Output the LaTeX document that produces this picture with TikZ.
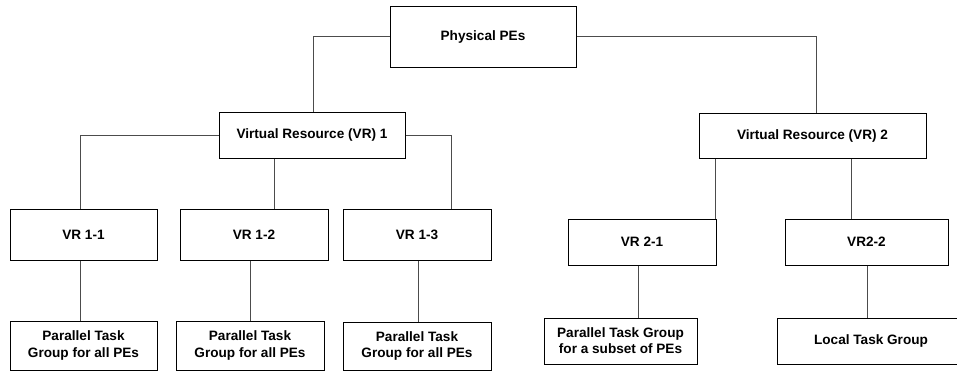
\documentclass[tikz,border=0pt]{standalone}
\usepackage{fontspec}
\setmainfont{Liberation Sans}
\begin{document}
\begin{tikzpicture}[x=1pt,y=-1pt,
  box/.style={draw=black, line width=1pt, inner sep=0pt, align=center,
    font=\fontsize{13.6}{16.2}\selectfont\bfseries},
  conn/.style={draw=black!70, line width=1pt}]
\useasboundingbox (0,0) rectangle (957,372);
% nodes
\node[box, minimum width=186pt, minimum height=61pt] (phys) at (483,36.5) {Physical PEs};
\node[box, minimum width=186pt, minimum height=46pt] (vr1) at (312,135) {Virtual Resource (VR) 1};
\node[box, minimum width=227pt, minimum height=45pt] (vr2) at (812.5,135.5) {Virtual Resource (VR) 2};
\node[box, minimum width=147pt, minimum height=51pt] (vr11) at (83.5,234.5) {VR 1-1};
\node[box, minimum width=148pt, minimum height=51pt] (vr12) at (254,234.5) {VR 1-2};
\node[box, minimum width=148pt, minimum height=51pt] (vr13) at (417,234.5) {VR 1-3};
\node[box, minimum width=147pt, minimum height=49pt] (p1) at (83.5,345.5) {Parallel Task\\Group for all PEs};
\node[box, minimum width=148pt, minimum height=49pt] (p2) at (250,345.5) {Parallel Task\\Group for all PEs};
\node[box, minimum width=148pt, minimum height=48pt] (p3) at (417,346) {Parallel Task\\Group for all PEs};
\node[box, minimum width=148pt, minimum height=46pt] (vr21) at (642,242) {VR 2-1};
\node[box, minimum width=163pt, minimum height=46pt] (vr22) at (866.5,242) {VR2-2};
\node[box, minimum width=153pt, minimum height=46pt] (p21) at (620.5,341) {Parallel Task Group\\for a subset of PEs};
\node[box, minimum width=188pt, minimum height=46pt] (loc) at (871,341) {Local Task Group};
% connectors
\draw[conn] (phys.west) -| (vr1.north -| 313,0);
\draw[conn] (phys.east) -| (vr2.north -| 816,0);
\draw[conn] (vr1.west) -| (vr11.north -| 80,0);
\draw[conn] (vr1.south -| 274,0) -- (vr12.north -| 274,0);
\draw[conn] (vr1.east) -| (vr13.north -| 451.5,0);
\draw[conn] (vr11.south -| 80,0) -- (p1.north -| 80,0);
\draw[conn] (vr12.south -| 250,0) -- (p2.north -| 250,0);
\draw[conn] (vr13.south -| 418,0) -- (p3.north -| 418,0);
\draw[conn] (vr2.south -| 715,0) -- (vr21.north -| 715,0);
\draw[conn] (vr2.south -| 851,0) -- (vr22.north -| 851,0);
\draw[conn] (vr21.south -| 638,0) -- (p21.north -| 638,0);
\draw[conn] (vr22.south -| 867,0) -- (loc.north -| 867,0);
\end{tikzpicture}
\end{document}
